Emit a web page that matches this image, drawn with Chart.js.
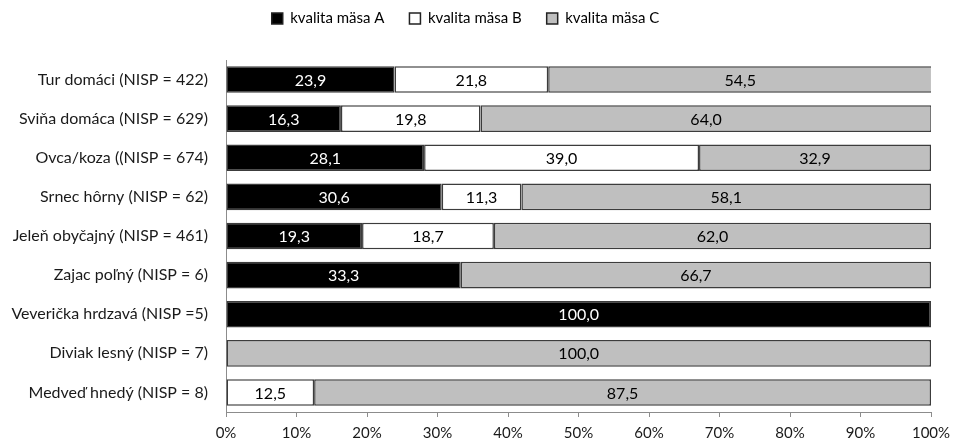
<!DOCTYPE html>
<html lang="sk">
<head>
    <meta charset="utf-8" />
    <title>Kvalita mäsa</title>
    <script src="https://cdn.jsdelivr.net/npm/chart.js@4.4.0/dist/chart.umd.min.js"></script>
    <style>
        html, body { margin: 0; padding: 0; background: #fff; }
        #wrap { width: 954px; height: 440px; }
    </style>
</head>
<body>
    <div id="wrap">
        <canvas id="masoChart"></canvas>
    </div>

    <script>
        // data
        var categories = [
            "Tur domáci (NISP = 422)",
            "Sviňa domáca (NISP = 629)",
            "Ovca/koza ((NISP = 674)",
            "Srnec hôrny (NISP = 62)",
            "Jeleň obyčajný (NISP = 461)",
            "Zajac poľný (NISP = 6)",
            "Veverička hrdzavá (NISP =5)",
            "Diviak lesný (NISP = 7)",
            "Medveď hnedý (NISP = 8)"
        ];
        var seriesNames = ["kvalita mäsa A", "kvalita mäsa B", "kvalita mäsa C"];
        var qualityA = [23.9, 16.3, 28.1, 30.6, 19.3, 33.3, 100.0, 0, 0];
        var qualityB = [21.8, 19.8, 39.0, 11.3, 18.7, 0, 0, 0, 12.5];
        var qualityC = [54.5, 64.0, 32.9, 58.1, 62.0, 66.7, 0, 100.0, 87.5];
        var xTicks = [0, 10, 20, 30, 40, 50, 60, 70, 80, 90, 100];

        var fillColors = ["#000000", "#ffffff", "#bfbfbf"];
        var labelColors = ["#ffffff", "#000000", "#000000"];
        var fontFamily = "Lato, 'Open Sans', sans-serif";

        Chart.defaults.font.family = fontFamily;
        Chart.defaults.color = "#1a1a1a";

        // value labels in the middle of each segment
        var segmentLabels = {
            id: 'segmentLabels',
            afterDatasetsDraw: function (chart) {
                var ctx = chart.ctx;
                ctx.save();
                ctx.font = "16px " + fontFamily;
                ctx.textAlign = 'center';
                ctx.textBaseline = 'middle';
                chart.data.datasets.forEach(function (ds, di) {
                    var meta = chart.getDatasetMeta(di);
                    meta.data.forEach(function (bar, i) {
                        var v = ds.data[i];
                        if (!v) return;
                        var p = bar.getProps(['x', 'y', 'base'], true);
                        ctx.fillStyle = labelColors[di];
                        ctx.fillText(v.toFixed(1).replace('.', ','), (p.x + p.base) / 2, p.y + 1);
                    });
                });
                ctx.restore();
            }
        };

        // make the legend box taller so the plot starts lower
        var legendSpace = {
            id: 'legendSpace',
            afterInit: function (chart) {
                var lg = chart.legend;
                if (!lg) return;
                var fit = lg.fit;
                lg.fit = function () {
                    fit.call(this);
                    this.height = 74;
                };
            }
        };

        var datasets = [qualityA, qualityB, qualityC].map(function (vals, i) {
            return {
                label: seriesNames[i],
                data: vals,
                backgroundColor: fillColors[i],
                borderColor: '#3c3c3c',
                borderWidth: 1.5,
                borderSkipped: false,
                barPercentage: 0.68,
                categoryPercentage: 1.0
            };
        });

        new Chart(document.getElementById('masoChart'), {
            type: 'bar',
            data: { labels: categories, datasets: datasets },
            options: {
                indexAxis: 'y',
                responsive: true,
                maintainAspectRatio: false,
                animation: false,
                layout: { padding: { left: 0, right: 23, top: -14, bottom: 0 } },
                scales: {
                    x: {
                        stacked: true,
                        min: 0,
                        max: 100,
                        afterBuildTicks: function (scale) {
                            scale.ticks = xTicks.map(function (v) { return { value: v }; });
                        },
                        grid: {
                            drawOnChartArea: false,
                            drawTicks: true,
                            tickLength: 5,
                            color: '#8c8c8c'
                        },
                        border: { color: '#8c8c8c', width: 1 },
                        ticks: {
                            font: { size: 15 },
                            padding: 7,
                            maxRotation: 0,
                            callback: function (v) { return v + '%'; }
                        },
                        afterFit: function (scale) {
                            scale.height = 28;
                            scale.paddingRight = 0;
                        }
                    },
                    y: {
                        stacked: true,
                        grid: { display: false },
                        border: { color: '#8c8c8c', width: 1 },
                        ticks: { font: { size: 16 }, padding: 10 },
                        afterFit: function (scale) { scale.width = 226; }
                    }
                },
                plugins: {
                    legend: {
                        position: 'top',
                        labels: {
                            boxWidth: 11,
                            boxHeight: 11,
                            padding: 25,
                            font: { size: 15 },
                            generateLabels: function (chart) {
                                return chart.data.datasets.map(function (ds, i) {
                                    return {
                                        text: ds.label,
                                        fillStyle: fillColors[i],
                                        strokeStyle: '#222',
                                        lineWidth: 1.5,
                                        datasetIndex: i
                                    };
                                });
                            }
                        }
                    },
                    tooltip: { enabled: false }
                }
            },
            plugins: [segmentLabels, legendSpace]
        });
    </script>
</body>
</html>
